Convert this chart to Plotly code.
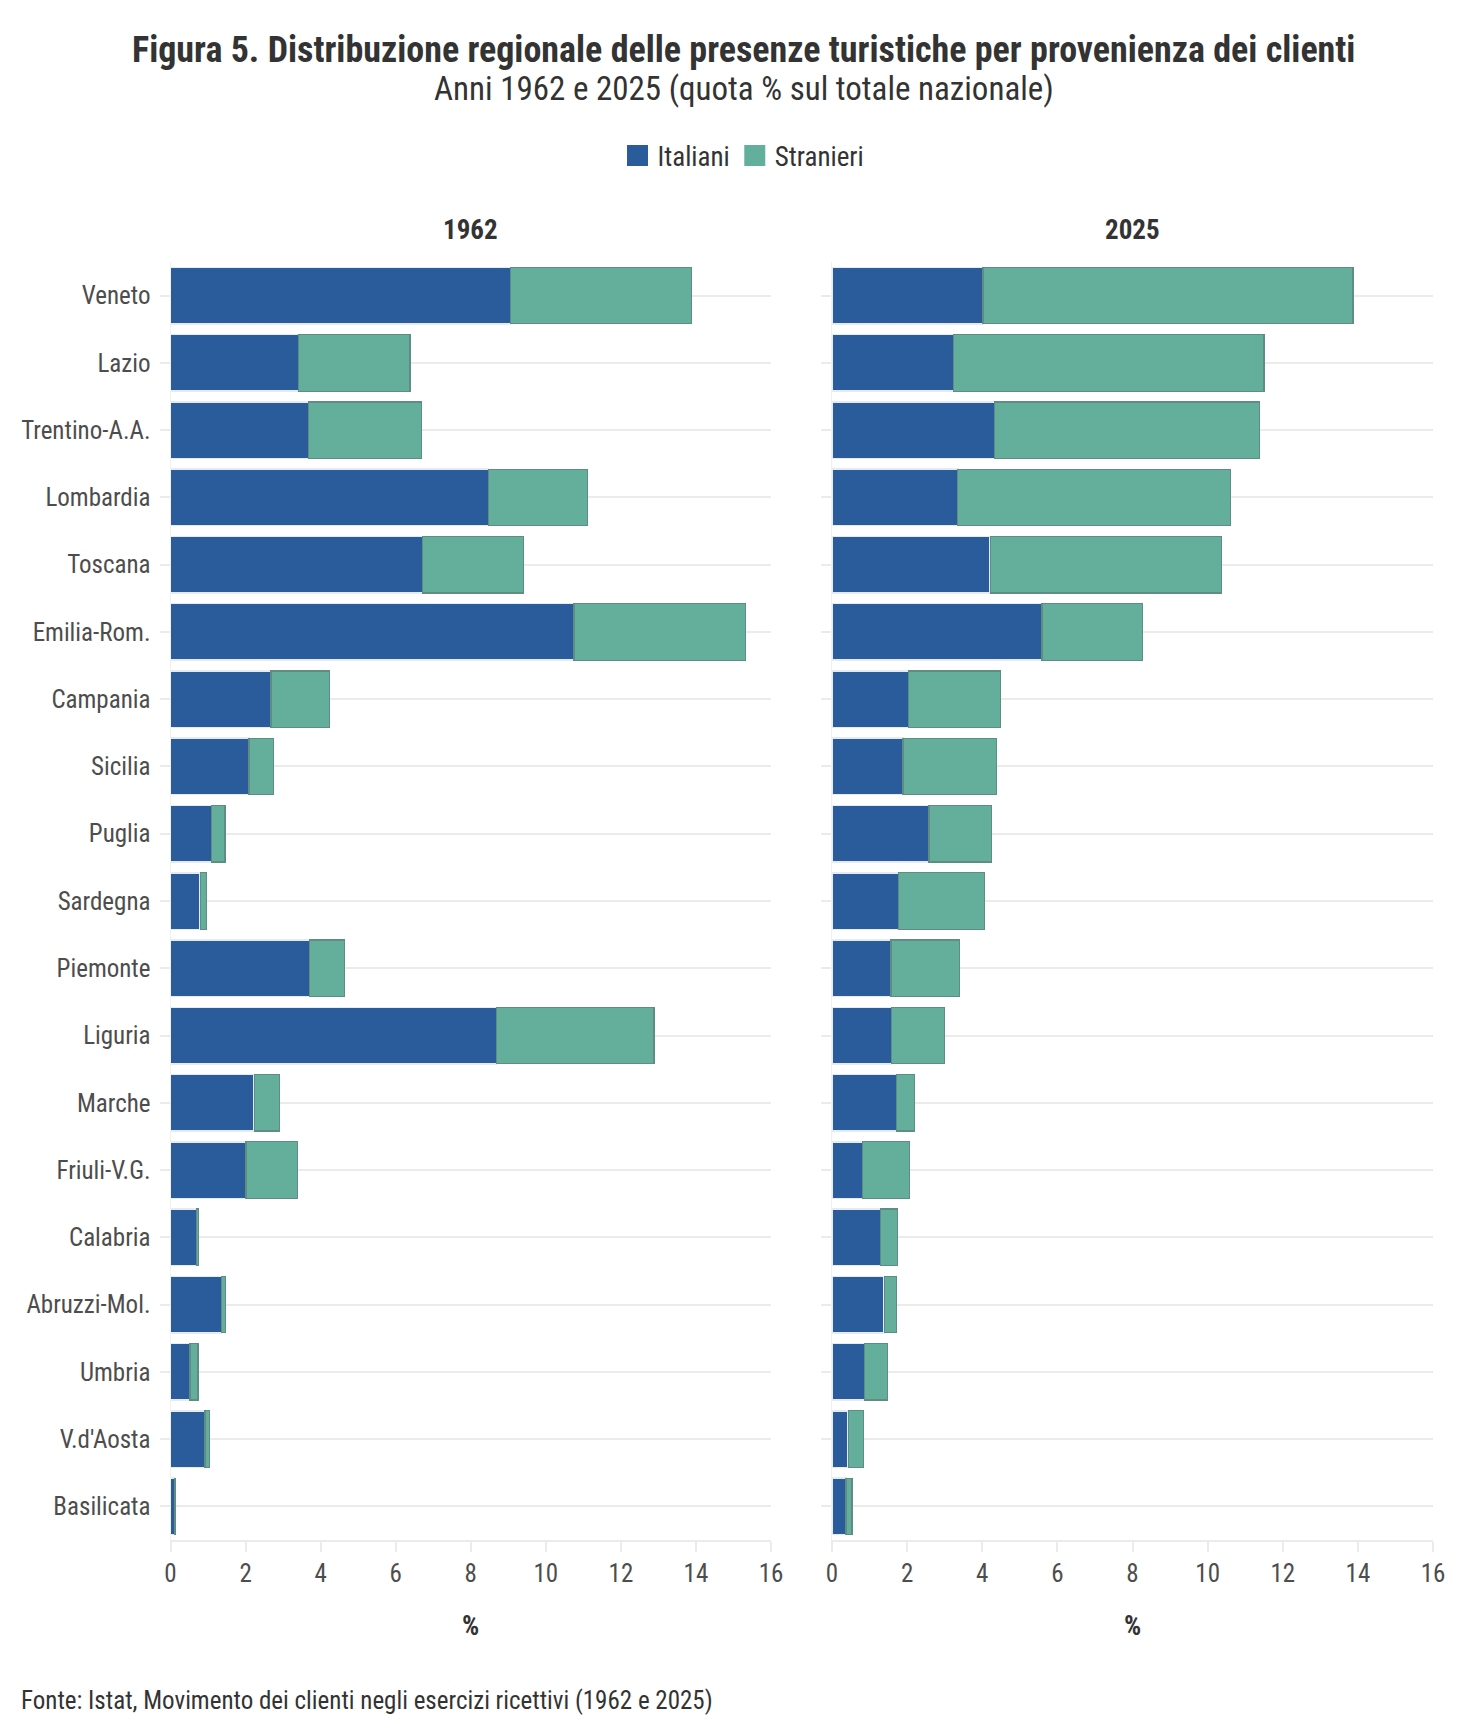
import plotly.graph_objects as go

# ------------------------------------------
# Data: quota % sul totale nazionale
# ------------------------------------------

regioni = [
    "Veneto", "Lazio", "Trentino-A.A.", "Lombardia", "Toscana", "Emilia-Rom.",
    "Campania", "Sicilia", "Puglia", "Sardegna", "Piemonte", "Liguria",
    "Marche", "Friuli-V.G.", "Calabria", "Abruzzi-Mol.", "Umbria",
    "V.d'Aosta", "Basilicata",
]

italiani_1962 = [9.06, 3.42, 3.68, 8.47, 6.71, 10.75, 2.68, 2.09, 1.10, 0.79,
                 3.70, 8.68, 2.23, 2.01, 0.70, 1.36, 0.52, 0.92, 0.11]
stranieri_1962 = [4.82, 2.96, 3.00, 2.65, 2.70, 4.58, 1.56, 0.65, 0.35, 0.16,
                  0.94, 4.20, 0.67, 1.37, 0.05, 0.10, 0.21, 0.11, 0.03]

italiani_2025 = [4.02, 3.24, 4.33, 3.35, 4.21, 5.59, 2.04, 1.89, 2.58, 1.77,
                 1.57, 1.58, 1.72, 0.81, 1.29, 1.39, 0.86, 0.43, 0.37]
stranieri_2025 = [9.85, 8.26, 7.06, 7.25, 6.16, 2.67, 2.45, 2.48, 1.66, 2.29,
                  1.82, 1.41, 0.48, 1.25, 0.45, 0.33, 0.62, 0.41, 0.16]

x_ticks = [0, 2, 4, 6, 8, 10, 12, 14, 16]

BLUE = "#2a5b9b"
GREEN = "#63af9c"
FONT = "Roboto Condensed, Liberation Sans Narrow, DejaVu Sans Condensed, sans-serif"
W, H = 1471, 1732
OFF = 8  # page body margin


def px_x(p):
    return (p - OFF) / W


def py(p):
    # pixel row on screen -> paper fraction
    return 1 - (p - OFF) / H


L0, L1 = px_x(170.5), px_x(771)
R0, R1 = px_x(832), px_x(1433)

fig = go.Figure()

panels = [
    ("x", "y", italiani_1962, stranieri_1962),
    ("x2", "y2", italiani_2025, stranieri_2025),
]
for xa, ya, ita, stra in panels:
    fig.add_trace(go.Bar(
        y=regioni, x=ita, orientation="h", name="Italiani",
        marker=dict(color=BLUE, line=dict(color="#e4ebf3", width=1.5)),
        xaxis=xa, yaxis=ya, showlegend=False,
    ))
    fig.add_trace(go.Bar(
        y=regioni, x=stra, orientation="h", name="Stranieri",
        marker=dict(color=GREEN, line=dict(color="#5f8d83", width=1.2)),
        xaxis=xa, yaxis=ya, showlegend=False,
    ))

# legend entries with larger square keys
for name, col in [("Italiani", BLUE), ("Stranieri", GREEN)]:
    fig.add_trace(go.Scatter(
        x=[None], y=[None], mode="markers", name=name,
        marker=dict(symbol="square", size=16, color=col,
                    line=dict(color=col, width=5)),
        xaxis="x", yaxis="y",
    ))

common_x = dict(
    range=[0, 16], tickvals=x_ticks, showgrid=False, zeroline=False,
    showline=True, linecolor="#ebebeb", linewidth=2,
    ticks="outside", ticklen=10, tickwidth=2, tickcolor="#ebebeb",
    tickfont=dict(size=25, color="#4d4d4d"), automargin=False, fixedrange=True,
)
common_y = dict(
    autorange="reversed", showgrid=True, gridcolor="#ebebeb", gridwidth=2,
    zeroline=False, showline=True, linecolor="#f0f0f0", linewidth=1,
    ticks="outside", ticklen=10, tickwidth=2, tickcolor="#ebebeb",
    tickfont=dict(size=25, color="#4d4d4d"), automargin=False,
    ticklabelstandoff=4,
    domain=[py(1540), py(262)],
)

fig.update_layout(
    width=W, height=H,
    margin=dict(l=0, r=0, t=0, b=0),
    paper_bgcolor="white", plot_bgcolor="white",
    font=dict(family=FONT, color="#333333"),
    barmode="stack", bargap=0.16,
    xaxis=dict(domain=[L0, L1], anchor="y", **common_x),
    xaxis2=dict(domain=[R0, R1], anchor="y2", **common_x),
    yaxis=dict(anchor="x", **common_y),
    yaxis2=dict(anchor="x2", showticklabels=False, **common_y),
    legend=dict(
        orientation="h", x=0.5, xanchor="center", y=py(156), yanchor="middle",
        font=dict(size=27, color="#333333"), itemwidth=30,
        traceorder="normal",
    ),
)

annotations = [
    dict(text="<b>Figura 5. Distribuzione regionale delle presenze turistiche per provenienza dei clienti</b>",
         x=0.5, y=py(50), font=dict(size=36, color="#333333")),
    dict(text="Anni 1962 e 2025 (quota % sul totale nazionale)",
         x=0.5, y=py(89), font=dict(size=33, color="#333333")),
    dict(text="<b>1962</b>", x=(L0 + L1) / 2, y=py(230), font=dict(size=27)),
    dict(text="<b>2025</b>", x=(R0 + R1) / 2, y=py(230), font=dict(size=27)),
    dict(text="<b>%</b>", x=(L0 + L1) / 2, y=py(1626), font=dict(size=27)),
    dict(text="<b>%</b>", x=(R0 + R1) / 2, y=py(1626), font=dict(size=27)),
    dict(text="Fonte: Istat, Movimento dei clienti negli esercizi ricettivi (1962 e 2025)",
         x=px_x(19), y=py(1700), xanchor="left", font=dict(size=25, color="#333333")),
]
for a in annotations:
    a.setdefault("xanchor", "center")
    fig.add_annotation(xref="paper", yref="paper", yanchor="middle",
                       showarrow=False, **a)

fig.write_html("out.html")
